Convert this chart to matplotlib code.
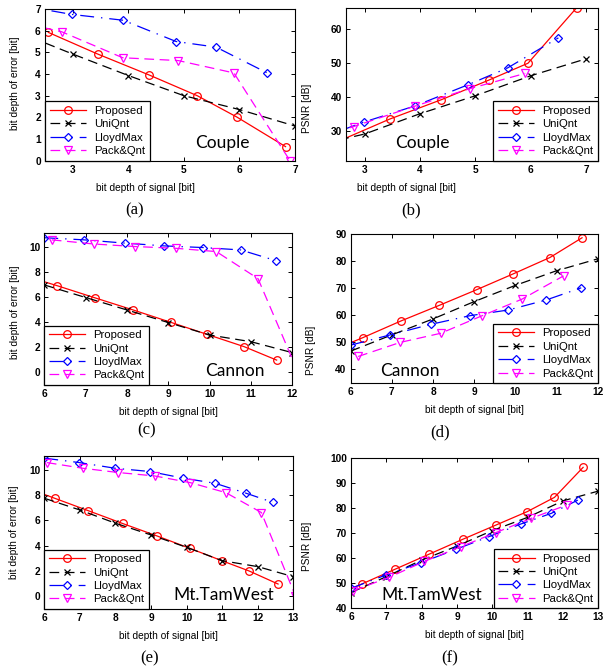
import numpy as np
import matplotlib
matplotlib.use('Agg')
from matplotlib import pyplot as plt

plt.rcParams['font.family'] = ['Liberation Sans', 'DejaVu Sans']
plt.rcParams['lines.scale_dashes'] = False

# ---- data ----
# Couple
prop_x_couple = [2.56, 3.45, 4.38, 5.24, 5.95, 6.83]
prop_err_couple = [5.92, 4.92, 3.95, 3.0, 2.02, 0.65]
prop_psnr_couple = [27.2, 33.5, 39.2, 45.0, 50.0, 66.4]
uni_x_couple = [2, 3, 4, 5, 6, 7]
uni_err_couple = [5.95, 4.92, 3.93, 3.0, 2.36, 1.6]
uni_psnr_couple = [25.3, 29.1, 35.1, 40.4, 46.3, 51.3]
lloyd_x_couple = [2.1, 2.98, 3.91, 4.86, 5.58, 6.5]
lloyd_err_couple = [7.15, 6.75, 6.48, 5.5, 5.24, 4.05]
lloyd_psnr_couple = [27.3, 32.6, 37.4, 43.6, 48.6, 57.5]
pack_x_couple = [2.2, 2.8, 3.9, 4.9, 5.9, 6.91]
pack_err_couple = [6.3, 5.95, 4.75, 4.62, 4.05, 0.0]
pack_psnr_couple = [28.1, 31.3, 37.3, 42.5, 47.0]

# Cannon
prop_x_cannon = [5.4, 6.3, 7.23, 8.15, 9.06, 9.94, 10.84, 11.62]
prop_err_cannon = [7.8, 6.9, 5.92, 4.96, 3.98, 3.02, 2.04, 0.98]
prop_psnr_cannon = [46.0, 51.7, 57.9, 63.6, 69.4, 75.2, 81.3, 88.6]
uni_x_cannon = [6, 7, 8, 9, 10, 11, 12]
uni_err_cannon = [6.95, 5.95, 4.96, 3.96, 2.97, 2.44, 1.57]
uni_psnr_cannon = [46.7, 52.7, 58.6, 65.0, 71.0, 76.4, 80.8]
lloyd_x_cannon = [6, 6.96, 7.95, 8.9, 9.83, 10.75, 11.6]
lloyd_err_cannon = [10.7, 10.53, 10.27, 10.05, 9.92, 9.73, 8.88]
lloyd_psnr_cannon = [48.9, 52.7, 56.6, 59.8, 61.9, 65.6, 70.1]
pack_x_cannon = [6.18, 7.2, 8.19, 9.18, 10.16, 11.17, 12.1]
pack_err_cannon = [10.53, 10.2, 10.0, 9.86, 9.6, 7.45, 0.3]
pack_psnr_cannon = [44.7, 49.9, 53.3, 59.7, 65.9, 74.5]

# Mt.TamWest
prop_x_tam = [5.4, 6.3, 7.24, 8.2, 9.16, 10.1, 10.99, 11.76, 12.57]
prop_err_tam = [8.68, 7.74, 6.76, 5.75, 4.77, 3.77, 2.8, 1.98, 0.95]
prop_psnr_tam = [44.1, 49.7, 55.6, 61.6, 67.6, 73.3, 78.7, 84.4, 96.4]
uni_x_tam = [6, 7, 8, 9, 10, 11, 12, 13]
uni_err_tam = [7.75, 6.82, 5.77, 4.84, 3.86, 2.8, 2.33, 1.53]
uni_psnr_tam = [46.3, 52.7, 59.3, 64.9, 71.1, 76.4, 83.0, 86.9]
lloyd_x_tam = [6, 6.98, 7.99, 8.97, 9.91, 10.8, 11.67, 12.42]
lloyd_err_tam = [10.93, 10.58, 10.13, 9.87, 9.34, 8.94, 8.15, 7.43]
lloyd_psnr_tam = [48.0, 53.3, 58.3, 63.6, 68.7, 73.7, 78.0, 83.3]
pack_x_tam = [6.07, 7.08, 8.08, 9.1, 10.1, 11.1, 12.1, 13.06]
pack_err_tam = [10.58, 10.13, 9.79, 9.52, 8.99, 8.2, 6.62, 0.0]
pack_psnr_tam = [47.1, 52.4, 58.8, 64.6, 70.3, 76.0, 81.3]

labels = ['Proposed', 'UniQnt', 'LloydMax', 'Pack&Qnt']

# line styles, roughly like MATLAB '-', '--', '-.', '--'
styles = [
    dict(color='#ff0000', linestyle='-', marker='o'),
    dict(color='black', dashes=(7, 4), marker='x', markersize=4.5),
    dict(color='#0000ff', dashes=(10, 5, 1, 5), marker='D', markersize=4.3),
    dict(color='#ff00ff', dashes=(7, 4), marker='v', markersize=5.5),
]


def panel(ax, series, xlim, ylim, yticks, name, name_pos, legend_loc, ylabel,
          xlabel_x, ylabel_pos, caption, caption_xy):
    # draw the four methods
    for (x, y), lab, st in zip(series, labels, styles):
        kw = dict(linewidth=0.9, markersize=5.5, markerfacecolor='none', markeredgewidth=0.9)
        kw.update(st)
        ax.plot(x, y, label=lab, **kw)
    ax.set_xlim(xlim)
    ax.set_ylim(ylim)
    ax.set_yticks(yticks)
    ax.tick_params(direction='in', top=True, right=True, length=3, width=0.7,
                   labelsize=7.3, pad=3)
    for t in ax.get_xticklabels() + ax.get_yticklabels():
        t.set_fontweight('bold')
    for s in ax.spines.values():
        s.set_linewidth(0.8)
    ax.set_xlabel('bit depth of signal [bit]', fontsize=7.3)
    ax.xaxis.set_label_coords(xlabel_x, -0.145)
    ax.set_ylabel(ylabel, fontsize=7.3)
    ax.yaxis.set_label_coords(*ylabel_pos)
    leg = ax.legend(loc=legend_loc, borderaxespad=0, fancybox=False, edgecolor='black',
                    framealpha=1, fontsize=8.2, handlelength=3.2, numpoints=1,
                    labelspacing=0.3, borderpad=0.4, handletextpad=0.7)
    leg.get_frame().set_linewidth(0.9)
    ax.text(name_pos[0], name_pos[1], name, transform=ax.transAxes, ha='center',
            va='center', fontsize=12.5, family='Lato')
    ax.figure.text(caption_xy[0] / 603, 1 - caption_xy[1] / 671, caption,
                   ha='center', va='center', fontsize=12, family='Liberation Serif')


fig = plt.figure(figsize=(6.03, 6.71), dpi=100)

ax_a = fig.add_axes([0.0746, 0.7605, 0.4146, 0.2261])
panel(ax_a, [(prop_x_couple, prop_err_couple), (uni_x_couple, uni_err_couple),
             (lloyd_x_couple, lloyd_err_couple), (pack_x_couple, pack_err_couple)],
      (2.5, 7), (0, 7), range(0, 8), 'Couple', (0.71, 0.117), 'lower left',
      'bit depth of error [bit]', 0.4, (-0.1, 0.51), '(a)', (135, 210))

ax_b = fig.add_axes([0.5738, 0.7605, 0.4174, 0.228])
panel(ax_b, [(prop_x_couple, prop_psnr_couple), (uni_x_couple, uni_psnr_couple),
             (lloyd_x_couple, lloyd_psnr_couple), (pack_x_couple[:5], pack_psnr_couple)],
      (2.66, 7.21), (21.2, 66.4), [30, 40, 50, 60], 'Couple', (0.305, 0.114), 'lower right',
      'PSNR [dB]', 0.242, (-0.135, 0.344), '(b)', (411, 210))

ax_c = fig.add_axes([0.0735, 0.4262, 0.4113, 0.2261])
panel(ax_c, [(prop_x_cannon, prop_err_cannon), (uni_x_cannon, uni_err_cannon),
             (lloyd_x_cannon, lloyd_err_cannon), (pack_x_cannon, pack_err_cannon)],
      (6, 12), (-1, 11.05), range(0, 11, 2), 'Cannon', (0.769, 0.094), 'lower left',
      'bit depth of error [bit]', 0.5, (-0.1, 0.48), '(c)', (147, 430))

ax_d = fig.add_axes([0.5816, 0.4288, 0.4096, 0.2225])
panel(ax_d, [(prop_x_cannon, prop_psnr_cannon), (uni_x_cannon, uni_psnr_cannon),
             (lloyd_x_cannon, lloyd_psnr_cannon), (pack_x_cannon[:6], pack_psnr_cannon)],
      (6, 12), (34.8, 90), range(40, 91, 10), 'Cannon', (0.24, 0.084), 'lower right',
      'PSNR [dB]', 0.5, (-0.14, 0.22), '(d)', (440, 432))

ax_e = fig.add_axes([0.0735, 0.0924, 0.413, 0.228])
panel(ax_e, [(prop_x_tam, prop_err_tam), (uni_x_tam, uni_err_tam),
             (lloyd_x_tam, lloyd_err_tam), (pack_x_tam, pack_err_tam)],
      (6, 13), (-1.03, 11.1), range(0, 11, 2), 'Mt.TamWest', (0.719, 0.092), 'lower left',
      'bit depth of error [bit]', 0.5, (-0.1, 0.5), '(e)', (150, 658))

ax_f = fig.add_axes([0.5821, 0.0934, 0.4101, 0.2235])
panel(ax_f, [(prop_x_tam, prop_psnr_tam), (uni_x_tam, uni_psnr_tam),
             (lloyd_x_tam, lloyd_psnr_tam), (pack_x_tam[:7], pack_psnr_tam)],
      (6, 13), (40, 100), range(40, 101, 10), 'Mt.TamWest', (0.326, 0.089), 'lower right',
      'PSNR [dB]', 0.5, (-0.158, 0.415), '(f)', (450, 658))

fig.savefig('out.png', dpi=100)
